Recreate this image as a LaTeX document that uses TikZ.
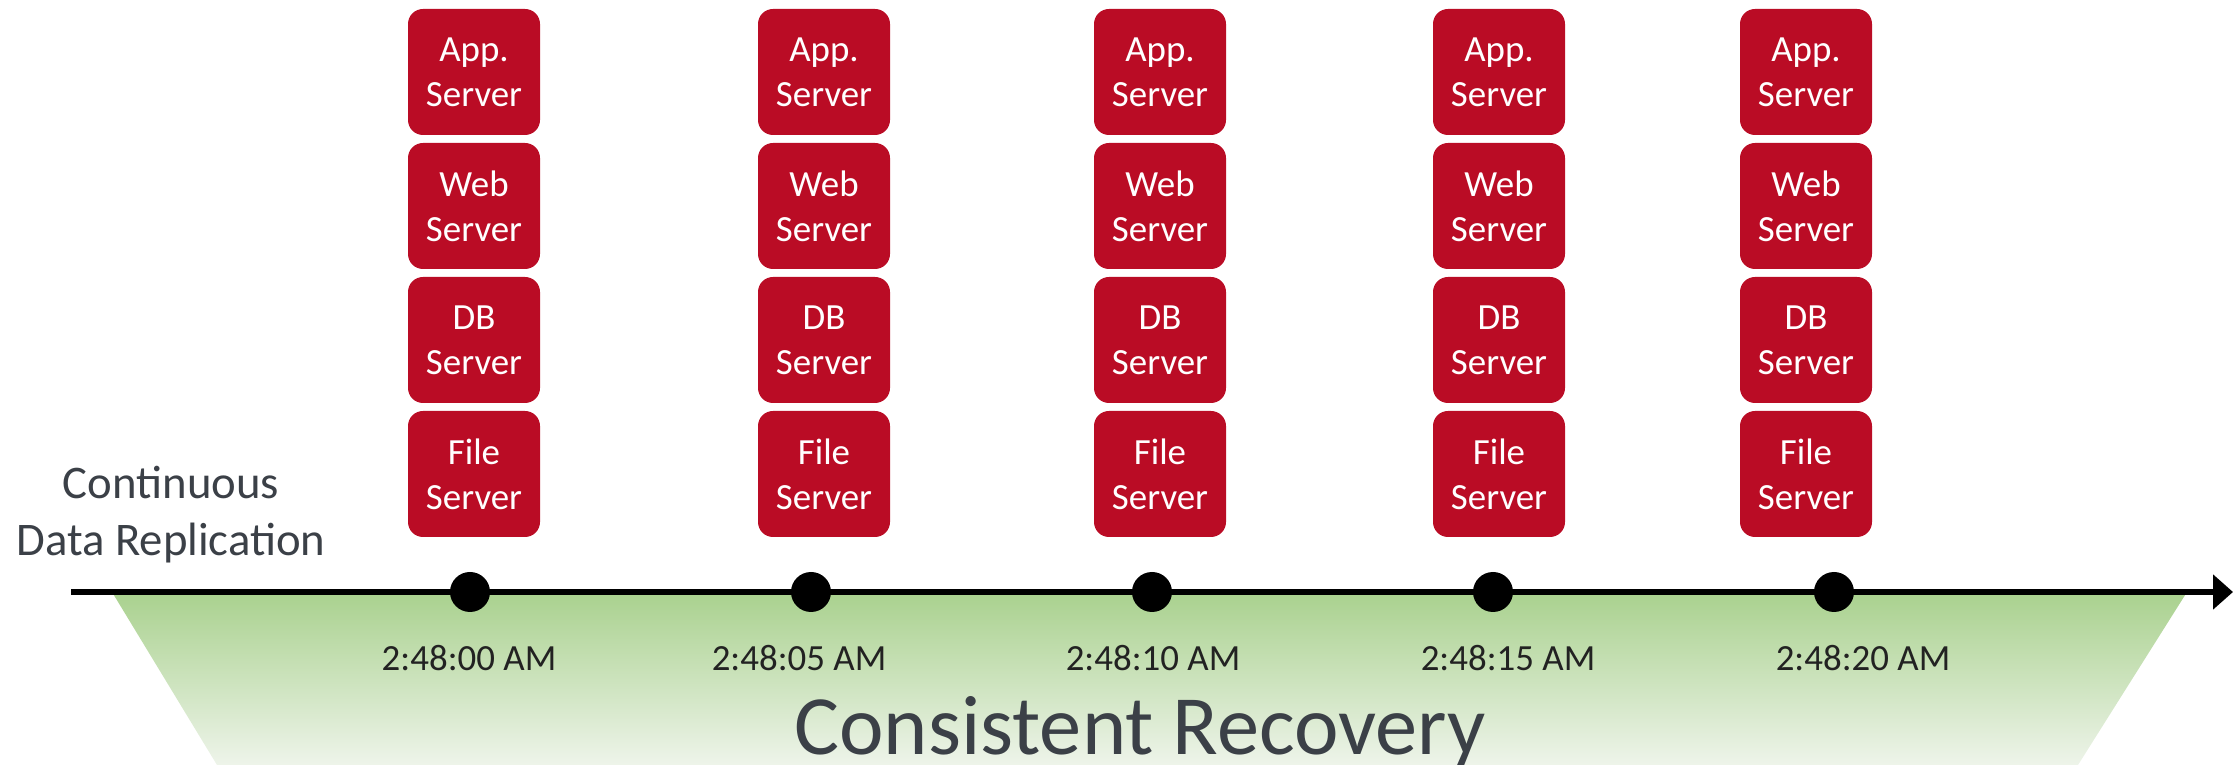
\documentclass[tikz,border=0pt]{standalone}
\usepackage{fontspec}
\setmainfont{Carlito}
\usetikzlibrary{arrows.meta}
\definecolor{srvred}{HTML}{BA0C25}
\definecolor{greentop}{HTML}{A9D18E}
\definecolor{greenbot}{HTML}{EEF4EA}
\definecolor{labelgray}{HTML}{3B4047}
\definecolor{timegray}{HTML}{222222}
\tikzset{
  server/.style={rounded corners=0.15cm, fill=srvred, text=white, align=center,
    minimum width=1.32cm, minimum height=1.26cm, inner sep=0pt,
    font=\fontsize{10.5}{12.8}\selectfont},
  tick/.style={circle, fill=black, minimum size=0.40cm, inner sep=0pt},
  timelbl/.style={anchor=base, text=timegray, font=\fontsize{10.5}{12.6}\selectfont}
}
\begin{document}
\begin{tikzpicture}
        \useasboundingbox (0,0) rectangle (22.37,7.65);

        % Green recovery band below the timeline
        \shade[top color=greentop, bottom color=greenbot]
          (1.12,1.73) -- (21.87,1.73) -- (20.78,0) -- (2.17,0) -- cycle;

        % Timeline
        \coordinate (tstart) at (0.71,1.73);
        \coordinate (tend) at (22.33,1.73);
        \draw[line width=0.06cm, -{Triangle[length=0.2cm,width=0.34cm]}] (tstart) -- (tend); % Timeline arrow

        % Snapshot points
        \node[tick] (p1) at (4.70,1.73) {};
        \node[tick] (p2) at (8.11,1.73) {};
        \node[tick] (p3) at (11.52,1.73) {};
        \node[tick] (p4) at (14.93,1.73) {};
        \node[tick] (p5) at (18.34,1.73) {};

        % Times under the points
        \node[timelbl] (t1) at (4.69,0.94) {2:48:00 AM};
        \node[timelbl] (t2) at (7.99,0.94) {2:48:05 AM};
        \node[timelbl] (t3) at (11.53,0.94) {2:48:10 AM};
        \node[timelbl] (t4) at (15.08,0.94) {2:48:15 AM};
        \node[timelbl] (t5) at (18.63,0.94) {2:48:20 AM};

        % First stack
        \node[server] (app1) at (4.74,6.93) {App.\\Server};
        \node[server] (web1) at (4.74,5.59) {Web\\Server};
        \node[server] (db1) at (4.74,4.25) {DB\\Server};
        \node[server] (file1) at (4.74,2.91) {File\\Server};

        % Second stack
        \node[server] (app2) at (8.24,6.93) {App.\\Server};
        \node[server] (web2) at (8.24,5.59) {Web\\Server};
        \node[server] (db2) at (8.24,4.25) {DB\\Server};
        \node[server] (file2) at (8.24,2.91) {File\\Server};

        % Third stack
        \node[server] (app3) at (11.60,6.93) {App.\\Server};
        \node[server] (web3) at (11.60,5.59) {Web\\Server};
        \node[server] (db3) at (11.60,4.25) {DB\\Server};
        \node[server] (file3) at (11.60,2.91) {File\\Server};

        % Fourth stack
        \node[server] (app4) at (14.99,6.93) {App.\\Server};
        \node[server] (web4) at (14.99,5.59) {Web\\Server};
        \node[server] (db4) at (14.99,4.25) {DB\\Server};
        \node[server] (file4) at (14.99,2.91) {File\\Server};

        % Fifth stack
        \node[server] (app5) at (18.06,6.93) {App.\\Server};
        \node[server] (web5) at (18.06,5.59) {Web\\Server};
        \node[server] (db5) at (18.06,4.25) {DB\\Server};
        \node[server] (file5) at (18.06,2.91) {File\\Server};

        % Side and band labels
        \node[align=center, text=labelgray, font=\fontsize{13.3}{16.2}\selectfont] (cdr) at (1.71,2.50) {Continuous\\Data Replication};
        \node[anchor=base, text=labelgray, font=\fontsize{24}{28}\selectfont] (rec) at (11.40,0.10) {Consistent Recovery};
\end{tikzpicture}
\end{document}
